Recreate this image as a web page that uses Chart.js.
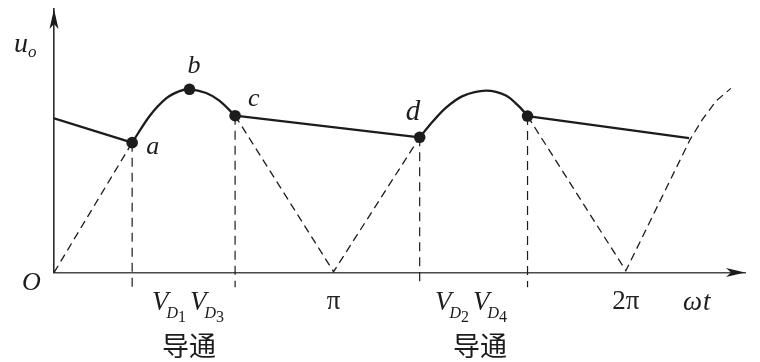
<!DOCTYPE html>
<html>
<head>
<meta charset="utf-8">
<script src="https://cdn.jsdelivr.net/npm/chart.js@4/dist/chart.umd.min.js"></script>
<style>
  html, body { margin: 0; padding: 0; background: #ffffff; }
  canvas { display: block; }
</style>
</head>
<body>
<canvas id="c" width="760" height="362"></canvas>
<script>
// ---- data (x: ωt in degrees, y: u_o relative to peak) ----
const xTickValues = [176, 360];
const xTickLabels = ['π', '2π'];

const decayLeft  = [[0, 0.842], [49.2, 0.709]];
const conductArc1 = [[49.2, 0.709], [60.1, 0.853], [70.6, 0.950], [79.0, 0.990], [85.3, 1.0], [95.8, 0.980], [104.1, 0.938], [114.0, 0.856]];
const decayMid   = [[114.0, 0.856], [230.2, 0.738]];
const conductArc2 = [[230.2, 0.738], [238.3, 0.823], [246.8, 0.900], [257.2, 0.963], [271.9, 0.993], [284.5, 0.966], [292.9, 0.905], [298.1, 0.854]];
const decayRight = [[298.1, 0.854], [399.8, 0.733]];

const rectifiedSeg1 = [[0, 0], [49.2, 0.709]];
const rectifiedSeg2 = [[114.0, 0.856], [176, 0.005], [230.2, 0.738]];
const rectifiedSeg3 = [[298.1, 0.854], [360, 0.01], [400.5, 0.727], [408.0, 0.833], [416.8, 0.936], [426.1, 1.005]];

const markerPoints = [[49.2, 0.709], [85.3, 1.0], [114.0, 0.856], [230.2, 0.738], [298.1, 0.854]];
const markerNames = ['a', 'b', 'c', 'd', ''];
const conductionBounds = [[49.2, 0.709], [114.0, 0.856], [230.2, 0.738], [298.1, 0.854]];
const boundBottom = -0.08;

const X_MAX = 435;
const Y_MAX = 1.438;

// ---- helpers ----
const pts = arr => arr.map(p => ({ x: p[0], y: p[1] }));
function withGaps(list) {
  const out = [];
  list.forEach((seg, i) => {
    if (i > 0) out.push({ x: seg[0][0], y: null });
    out.push(...pts(seg));
  });
  return out;
}
const verticalData = [];
conductionBounds.forEach((p, i) => {
  if (i > 0) verticalData.push({ x: p[0], y: null });
  verticalData.push({ x: p[0], y: p[1] });
  verticalData.push({ x: p[0], y: boundBottom });
});

const INK = '#1c1c1c';
const SERIF = '"Liberation Serif", "DejaVu Serif", serif';

function runs(ctx, x, y, list) {
  let cx = x;
  list.forEach(r => {
    ctx.font = r.font;
    cx += (r.gap || 0);
    ctx.fillText(r.t, cx, y + (r.dy || 0));
    cx += ctx.measureText(r.t).width;
  });
}

const decorPlugin = {
  id: 'decor',
  afterDraw(chart) {
    const ctx = chart.ctx;
    const xs = chart.scales.x, ys = chart.scales.y;
    const ox = xs.getPixelForValue(0), oy = ys.getPixelForValue(0);
    const tipX = xs.getPixelForValue(X_MAX), tipY = ys.getPixelForValue(Y_MAX);
    ctx.save();
    ctx.fillStyle = INK;
    // arrowheads
    ctx.beginPath();
    ctx.moveTo(tipX, oy);
    ctx.lineTo(tipX - 19, oy - 4.5);
    ctx.lineTo(tipX - 14, oy);
    ctx.lineTo(tipX - 19, oy + 4.5);
    ctx.closePath();
    ctx.fill();
    ctx.beginPath();
    ctx.moveTo(ox, tipY);
    ctx.lineTo(ox - 4.5, tipY + 20);
    ctx.lineTo(ox, tipY + 15);
    ctx.lineTo(ox + 4.5, tipY + 20);
    ctx.closePath();
    ctx.fill();

    ctx.textBaseline = 'alphabetic';
    ctx.textAlign = 'left';
    // axis labels
    runs(ctx, ox - 40, 52, [
      { t: 'u', font: 'italic 28px ' + SERIF },
      { t: 'o', font: 'italic 17px ' + SERIF, dy: 5, gap: 0 }
    ]);
    ctx.font = 'italic 26px ' + SERIF;
    ctx.fillText('O', ox - 32, oy + 17);
    runs(ctx, 683, oy + 37, [
      { t: 'ω', font: 'italic 27px ' + SERIF },
      { t: 't', font: 'italic 27px ' + SERIF, gap: 1 }
    ]);

    // point labels
    const offs = [[14, 11], [-2, -16], [13, -10], [-14, -17], [0, 0]];
    markerPoints.forEach((p, i) => {
      if (!markerNames[i]) return;
      const px = xs.getPixelForValue(p[0]), py = ys.getPixelForValue(p[1]);
      ctx.font = 'italic ' + (i === 3 ? 29 : 26) + 'px ' + SERIF;
      ctx.fillText(markerNames[i], px + offs[i][0], py + offs[i][1]);
    });

    // conduction labels
    const condLabels = [
      { x: 152, sub: ['1', '3'], cjk: 189 },
      { x: 435, sub: ['2', '4'], cjk: 480 }
    ];
    condLabels.forEach(c => {
      runs(ctx, c.x, 310, [
        { t: 'V', font: 'italic 27px ' + SERIF },
        { t: 'D', font: 'italic 16px ' + SERIF, dy: 8, gap: -2 },
        { t: c.sub[0], font: '16px ' + SERIF, dy: 12, gap: 0 },
        { t: 'V', font: 'italic 27px ' + SERIF, gap: 4 },
        { t: 'D', font: 'italic 16px ' + SERIF, dy: 8, gap: -2 },
        { t: c.sub[1], font: '16px ' + SERIF, dy: 12, gap: 0 }
      ]);
      ctx.font = '27px "Noto Sans CJK SC", sans-serif';
      ctx.textAlign = 'center';
      ctx.fillText('导通', c.cjk, 356);
      ctx.textAlign = 'left';
    });
    ctx.restore();
  }
};

const dashedStyle = { borderColor: INK, borderWidth: 1.3, borderDash: [8, 5], pointRadius: 0, fill: false, tension: 0, clip: false };

new Chart(document.getElementById('c'), {
  type: 'line',
  data: {
    datasets: [
      { label: 'markers', data: pts(markerPoints), showLine: false, pointRadius: 5.8, pointBackgroundColor: INK, pointBorderWidth: 0, pointHoverRadius: 5.8 },
      { label: 'conduction', data: withGaps([conductArc1, conductArc2]), borderColor: INK, borderWidth: 2.3, pointRadius: 0, tension: 0.3, fill: false },
      { label: 'discharge', data: withGaps([decayLeft, decayMid, decayRight]), borderColor: INK, borderWidth: 2.3, pointRadius: 0, tension: 0, fill: false },
      Object.assign({ label: 'rectified', data: withGaps([rectifiedSeg1, rectifiedSeg2, rectifiedSeg3]) }, dashedStyle),
      Object.assign({ label: 'bounds' , data: verticalData }, dashedStyle, { borderDash: [9, 6], borderWidth: 1.2 })
    ]
  },
  options: {
    responsive: false,
    animation: false,
    devicePixelRatio: 1,
    layout: { padding: { left: 54, top: 9, right: 15, bottom: 31 } },
    plugins: { legend: { display: false }, tooltip: { enabled: false } },
    scales: {
      x: {
        type: 'linear', min: 0, max: X_MAX,
        grid: { display: false, drawTicks: false },
        border: { display: true, color: '#4a4a4a', width: 1.6 },
        afterBuildTicks: s => { s.ticks = xTickValues.map(v => ({ value: v })); },
        ticks: {
          autoSkip: false, maxRotation: 0, padding: 13, color: '#222',
          font: { family: 'Liberation Serif', size: 27 },
          callback: (v, i) => xTickLabels[i]
        }
      },
      y: {
        type: 'linear', min: 0, max: Y_MAX,
        grid: { display: false, drawTicks: false },
        border: { display: true, color: '#2a2a2a', width: 1.6 },
        ticks: { display: false }
      }
    }
  },
  plugins: [decorPlugin]
});
</script>
</body>
</html>
